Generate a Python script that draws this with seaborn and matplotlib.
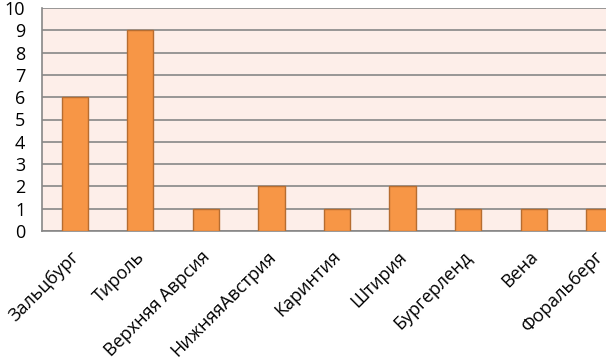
import matplotlib
matplotlib.use("Agg")
import matplotlib.pyplot as plt
import matplotlib.transforms as mtransforms
import seaborn as sns
import pandas as pd
import numpy as np

regions = ["Зальцбург", "Тироль", "Верхняя Аврсия", "НижняяАвстрия", "Каринтия",
           "Штирия", "Бургерленд", "Вена", "Форальберг"]
counts = [6, 9, 1, 2, 1, 2, 1, 1, 1]
y_ticks = list(range(0, 11))

sns.set_style("white")
plt.rcParams['font.family'] = ['Open Sans', 'DejaVu Sans']

df = pd.DataFrame({"region": regions, "count": counts})

W, H = 606, 363
fig = plt.figure(figsize=(W / 100, H / 100), dpi=100)
left, right, top, bottom = 42, 632, 8, 231
ax = fig.add_axes([left / W, 1 - bottom / H, (right - left) / W, (bottom - top) / H])
ax.set_facecolor("#FDEEE9")

sns.barplot(data=df, x="region", y="count", color="#F79646", edgecolor="#B66D31",
            linewidth=1.0, width=0.4, saturation=1, ax=ax, zorder=3)

ax.set_xlim(-0.5, len(regions) - 0.5)
ax.set_ylim(0, 10)
ax.set_yticks(y_ticks)
ax.set_yticklabels([str(v) for v in y_ticks], fontsize=13)
ax.yaxis.grid(True, color="#878787", linewidth=1.2, zorder=0)
ax.set_axisbelow(True)

ax.set_xticks(range(len(regions)))
ax.set_xticklabels(regions, rotation=45, ha="right", rotation_mode="anchor", fontsize=13)
ax.set_xticks(np.arange(-0.5, len(regions), 1), minor=True)
ax.tick_params(axis="x", which="major", length=0, pad=12)
ax.tick_params(axis="x", which="minor", length=7, color="#878787", width=1.2, direction="out")
ax.tick_params(axis="y", which="major", length=7, color="#878787", width=1.2, direction="out", pad=5)
ax.tick_params(axis="both", labelcolor="#000000")

offset = mtransforms.ScaledTranslation(-5 / 100, 0, fig.dpi_scale_trans)
for lbl in ax.get_xticklabels():
    lbl.set_transform(lbl.get_transform() + offset)

for s in ["top", "right"]:
    ax.spines[s].set_visible(False)
for s in ["left", "bottom"]:
    ax.spines[s].set_color("#878787")
    ax.spines[s].set_linewidth(1.2)

ax.set_xlabel("")
ax.set_ylabel("")

fig.savefig("out.png", dpi=100)
